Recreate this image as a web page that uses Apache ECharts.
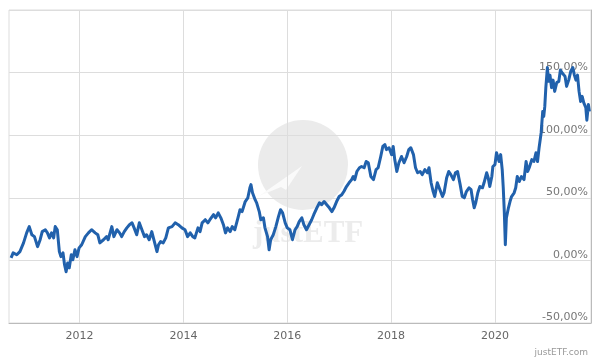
<!DOCTYPE html>
<html>
<head>
<meta charset="utf-8">
<script src="https://cdn.jsdelivr.net/npm/echarts@6/dist/echarts.min.js"></script>
<style>html,body{margin:0;padding:0;background:#fff}#c{width:600px;height:360px}</style>
</head>
<body>
<div id="c"></div>
<script>
// decimal-year time stamps
var times = [
2010.68,2010.72,2010.79,2010.85,2010.92,2010.98,2011.03,2011.08,2011.13,2011.19,2011.24,2011.28,2011.34,2011.38,2011.42,2011.46,2011.50,2011.53,2011.57,2011.61,2011.64,2011.68,2011.71,2011.74,2011.77,2011.80,2011.84,2011.87,2011.91,2011.95,2011.99,
2012.04,2012.11,2012.17,2012.23,2012.30,2012.35,2012.39,2012.46,2012.52,2012.55,2012.62,2012.66,2012.72,2012.77,2012.81,2012.86,2012.91,2012.96,
2013.01,2013.05,2013.10,2013.15,2013.20,2013.25,2013.29,2013.34,2013.39,2013.43,2013.49,2013.52,2013.56,2013.61,2013.66,2013.71,2013.78,2013.84,2013.90,2013.97,
2014.03,2014.08,2014.13,2014.18,2014.22,2014.28,2014.32,2014.36,2014.42,2014.47,2014.51,2014.58,2014.62,2014.67,2014.72,2014.77,2014.81,2014.85,2014.90,2014.94,2014.99,
2015.05,2015.09,2015.13,2015.19,2015.24,2015.28,2015.30,2015.33,2015.38,2015.41,2015.46,2015.49,2015.54,2015.57,2015.62,2015.65,2015.68,2015.73,2015.78,2015.83,2015.87,2015.91,2015.96,
2016.00,2016.05,2016.10,2016.15,2016.19,2016.23,2016.28,2016.32,2016.37,2016.42,2016.47,2016.51,2016.57,2016.62,2016.66,2016.71,2016.76,2016.81,2016.86,2016.90,2016.95,
2017.00,2017.05,2017.09,2017.14,2017.19,2017.24,2017.27,2017.30,2017.34,2017.39,2017.43,2017.48,2017.52,2017.56,2017.61,2017.66,2017.71,2017.75,2017.80,2017.84,2017.88,2017.91,2017.96,
2018.01,2018.04,2018.07,2018.11,2018.15,2018.20,2018.25,2018.30,2018.34,2018.38,2018.43,2018.47,2018.51,2018.56,2018.60,2018.65,2018.70,2018.73,2018.77,2018.81,2018.84,2018.89,2018.94,2018.99,
2019.02,2019.07,2019.11,2019.15,2019.20,2019.24,2019.28,2019.33,2019.37,2019.41,2019.45,2019.50,2019.54,2019.57,2019.60,2019.63,2019.67,2019.71,2019.76,2019.79,2019.84,2019.87,2019.90,2019.94,2019.96,
2020.00,2020.03,2020.08,2020.11,2020.14,2020.16,2020.18,2020.20,2020.22,2020.26,2020.29,2020.32,2020.37,2020.40,2020.43,2020.47,2020.51,2020.56,2020.60,2020.63,2020.66,2020.71,2020.75,2020.79,2020.82,2020.85,2020.89,2020.92,2020.94,2020.96,2020.98,
2021.01,2021.03,2021.06,2021.09,2021.12,2021.15,2021.19,2021.23,2021.26,2021.30,2021.35,2021.38,2021.42,2021.46,2021.50,2021.53,2021.56,2021.59,2021.62,2021.65,2021.68,2021.71,2021.75,2021.77,2021.80,2021.82
];
// performance in percent
var perf = [
2,6,4.5,7,14,22,27,20.5,19,11,16.5,23,24.5,22,18,22,18,27,24.5,7,3,6,-3.5,-9,-2,-6,4.5,0.5,8.5,3,10,
12.5,19,22,24.5,22,20.5,14,16.5,19,16.5,27,19,24.5,22,19,23,26,28.5,
30,26,20.5,30,24.5,19,20.5,16.5,23,16.5,7,12.5,15,14,18,26,27,30,28.5,26,
24.5,19,22,19,18,26,23,30,32.5,30,32.5,36.5,34,38,34,28.5,22,26,23,27,24.5,
34,40.5,39,47,50,58,60.5,54,48.5,46,39,32.5,34,26,19,8.5,16.5,20.5,27,35,40.5,38,30,
26,24.5,16.5,24.5,27,31,34,28.5,24.5,28.5,32.5,36.5,42,46,44.5,47,44.5,42,39,42,47,
51,52.5,55,59,62,64.5,67,64.5,71,74,75,74,79,78,67,64.5,72.5,74,83,91,92.5,88.5,90,
84.5,91,80.5,71,78,83,78,83,88.5,90,84.5,74,70,71,68.5,72.5,70,74,62,55,51,62,56.5,51,
54,66,71,68.5,64.5,70,71,60.5,51,50,55,58,56.5,48.5,42,46,54,59,58,62,70,66,59,67,75,
76.5,86,79,84.5,72.5,58,39,12.5,34,42,47,51,54,58,67,63,67,64.5,79,71,74,80.5,79,86,79,90,102,119,115,123,138,
154,143,148,138,144,135,142,143,152,149.5,147,139,144,151,154,148,144,148,135,127,131,126,122,112,124.5,119
];
var yearTicks = [2012, 2014, 2016, 2018, 2020];

var data = times.map(function (t, i) { return [t, perf[i]]; });
var chart = echarts.init(document.getElementById('c'), null, {renderer: 'canvas'});
var FONT = 'DejaVu Sans';
chart.setOption({
  animation: false,
  backgroundColor: '#ffffff',
  textStyle: {fontFamily: FONT},
  grid: {left: 9, right: 9, top: 10, bottom: 37, show: true, borderColor: '#dddddd', borderWidth: 1, containLabel: false},
  graphic: [
    {type: 'circle', z: -10, shape: {cx: 303, cy: 165, r: 45}, style: {fill: '#ebebeb'}},
    {type: 'polygon', z: -9, shape: {points: [[259, 196], [302, 166], [286, 190], [281, 187]]}, style: {fill: '#fafafa'}},
    {type: 'text', z: -10, left: 253, top: 218, style: {text: 'justETF', font: 'bold 31px "Liberation Serif"', fill: '#ececec'}},
    {type: 'text', right: 12, bottom: 3, style: {text: 'justETF.com', font: '9px "DejaVu Sans"', fill: '#999999'}}
  ],
  xAxis: {
    type: 'value', min: 2010.64, max: 2021.85,
    axisLine: {show: true, onZero: false, lineStyle: {color: '#bbbbbb'}},
    axisTick: {show: false, customValues: yearTicks},
    splitLine: {show: true, lineStyle: {color: '#dddddd', width: 1}},
    axisLabel: {customValues: yearTicks, color: '#666666', fontSize: 11, margin: 8, fontFamily: FONT,
      formatter: function (v) { return String(v); }}
  },
  yAxis: {
    type: 'value', position: 'right', min: -50, max: 200, interval: 50,
    axisLine: {show: true, lineStyle: {color: '#bbbbbb'}},
    axisTick: {show: false},
    splitLine: {show: true, lineStyle: {color: '#dddddd', width: 1}},
    axisLabel: {inside: true, margin: 3, color: '#777777', fontSize: 11, fontFamily: FONT, verticalAlign: 'bottom',
      formatter: function (v) { return v >= 200 ? '' : v.toFixed(2).replace('.', ',') + '%'; }}
  },
  series: [{
    type: 'line', data: data, showSymbol: false, symbol: 'none', smooth: false,
    lineStyle: {color: '#2161ac', width: 3, join: 'round'}, z: 5
  }]
});
</script>
</body>
</html>
